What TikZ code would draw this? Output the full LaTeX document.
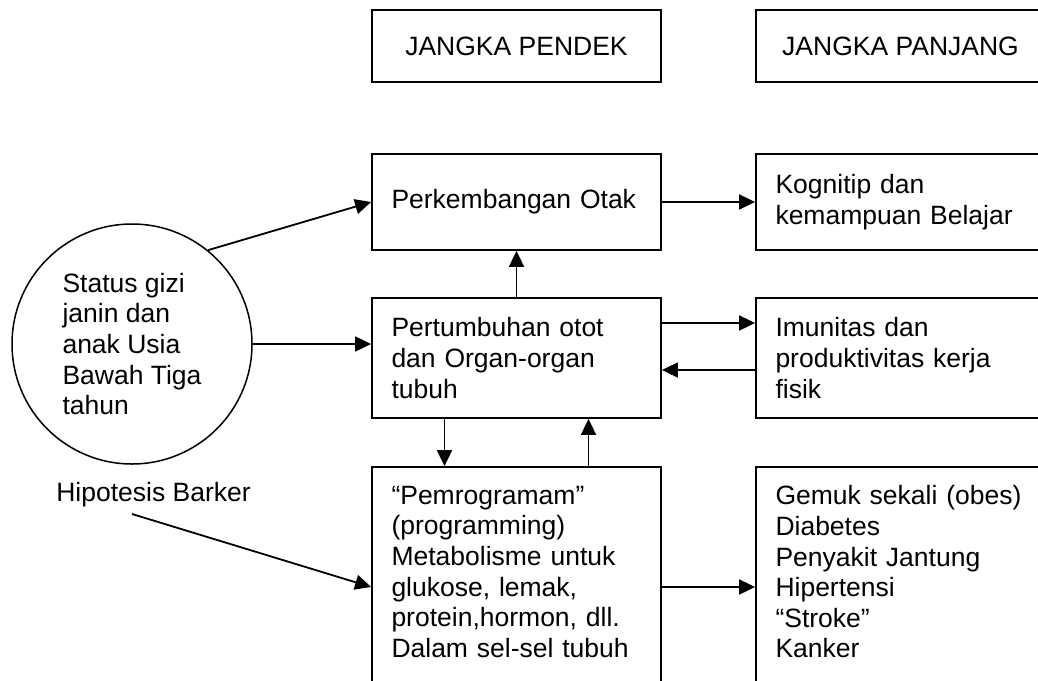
\documentclass[tikz,border=0pt]{standalone}
\usepackage{fontspec}
\setmainfont{Liberation Sans}
\usetikzlibrary{positioning, arrows.meta}

\begin{document}
\begin{tikzpicture}[
    x=1pt, y=-1pt,
    >={Triangle[length=16pt, width=15pt]},
    node distance=156pt and 384pt,
    on grid,
    font=\fontsize{26.5}{30.6}\selectfont,
    header/.style={draw, line width=1.8pt, minimum width=289pt, minimum height=72pt, inner sep=0pt},
    box/.style={draw, line width=1.8pt, minimum width=289pt, text width=250pt, inner xsep=19.5pt, inner ysep=4pt, align=left},
    connector/.style={->, line width=1.8pt}
]
\useasboundingbox (0,0) rectangle (1038,680);

% -------------------------
% HEADERS
% -------------------------
\node[header] (pendek) at (516.5,46) {JANGKA PENDEK};
\node[header] (panjang) [right=of pendek] {JANGKA PANJANG};

% -------------------------
% SHORT TERM / LONG TERM BOXES
% -------------------------
\node[box, minimum height=96pt] (otak) [below=of pendek] {Perkembangan Otak};
\node[box, minimum height=96pt] (kognitip) [right=of otak] {Kognitip dan\\ kemampuan Belajar};

\node[box, minimum height=120pt] (tumbuh) [below=of otak] {Pertumbuhan otot\\ dan Organ-organ\\ tubuh};
\node[box, minimum height=120pt] (imunitas) [right=of tumbuh] {Imunitas dan\\ produktivitas kerja\\ fisik};

\node[box, minimum height=240pt] (program) [below=229pt of tumbuh] {“Pemrogramam”\\ (programming)\\ Metabolisme untuk\\ glukose, lemak,\\ protein,hormon, dll.\\ Dalam sel-sel tubuh\\ ~};
\node[box, minimum height=240pt] (penyakit) [right=of program] {Gemuk sekali (obes)\\ Diabetes\\ Penyakit Jantung\\ Hipertensi\\ “Stroke”\\ Kanker\\ ~};

% -------------------------
% SOURCES
% -------------------------
\node[circle, draw, line width=1.5pt, minimum size=240pt, inner sep=0pt, align=left] (gizi) at (132,344) {Status gizi\\ janin dan\\ anak Usia\\ Bawah Tiga\\ tahun};
\node[anchor=base, inner sep=2pt] (barker) at (153.5,501) {Hipotesis Barker};
\coordinate (barkerTail) at ([xshift=-21.5pt, yshift=-13pt]barker.base);

% -------------------------
% CONNECTORS
% -------------------------
\path[connector]
(gizi.51) edge (otak.west)
(barkerTail) edge (program.west);
\draw[connector] (gizi.east) -- (gizi.east -| tumbuh.west);

\draw[connector] (otak) -- (kognitip);
\draw[connector] (tumbuh) -- (otak);

\draw[connector] ([yshift=35pt]tumbuh.east) -- ([yshift=35pt]imunitas.west);
\draw[connector] ([yshift=-12pt]imunitas.west) -- ([yshift=-12pt]tumbuh.east);

\draw[connector] ([xshift=-72pt]tumbuh.south) -- ([xshift=-72pt]program.north);
\draw[connector] ([xshift=72pt]program.north) -- ([xshift=72pt]tumbuh.south);

\draw[connector] (program) -- (penyakit);

\end{tikzpicture}
\end{document}
